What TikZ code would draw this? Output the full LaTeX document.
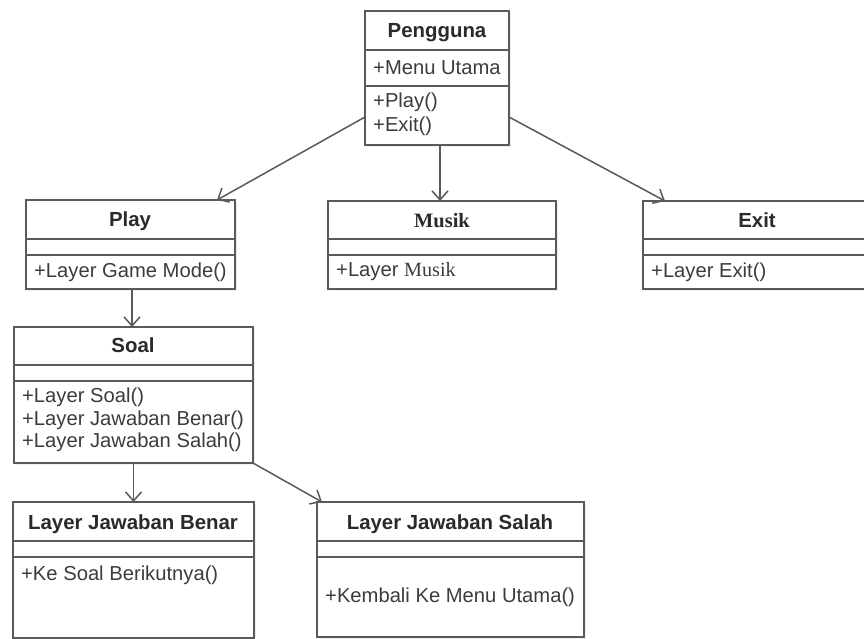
\documentclass[tikz,border=0pt]{standalone}
\usepackage{fontspec}
\setmainfont{Liberation Sans}
\newfontfamily\serifb{Liberation Serif}
\usetikzlibrary{arrows.meta,calc,shadows}
\definecolor{boxline}{HTML}{5A5A5A}
\definecolor{txt}{HTML}{3C3C3C}
\definecolor{ttl}{HTML}{2A2A2A}
\newcommand\umlcls[7]{%
  \node[umlbox, minimum width={#4pt-#2pt}, minimum height={#5pt-#3pt}] (#1) at (#2,#3) {};
  \draw[divline] ([yshift=-#6pt]#1.north west) -- ([yshift=-#6pt]#1.north east);
  \draw[divline] ([yshift=-#7pt]#1.north west) -- ([yshift=-#7pt]#1.north east);
}
\begin{document}
\begin{tikzpicture}[x=1pt,y=-1pt,
  umlbox/.style={draw=boxline, line width=1.9pt, fill=white, anchor=north west, inner sep=0pt, outer sep=0pt,
    drop shadow={opacity=0.12, shadow xshift=2pt, shadow yshift=-2pt}},
  divline/.style={draw=boxline, line width=1.7pt},
  ttltext/.style={font=\fontsize{20.4}{23}\selectfont\bfseries, text=ttl, inner sep=0pt, anchor=base},
  mtext/.style={font=\fontsize{20.2}{23}\selectfont, text=txt, anchor=west, align=left, inner sep=0pt},
  assoc/.style={draw=boxline, line width=1.5pt, -{Straight Barb[length=9pt,width=16pt,line width=1.5pt]}}]
\useasboundingbox[fill=white] (0,0) rectangle (864,639);

% boxes
\umlcls{peng}{365}{11}{509}{145}{39}{75}
\umlcls{play}{26}{200}{235}{289}{39}{55}
\umlcls{musik}{328}{201}{556}{289}{38}{54}
\umlcls{exit}{643}{201}{872}{289}{38}{54}
\umlcls{soal}{14}{327}{253}{463}{38}{54}
\umlcls{benar}{13}{502}{254}{638}{39}{55}
\umlcls{salah}{317}{502}{584}{637}{39}{55}

% texts
\node[ttltext] (pengT) at (437,37.5) {Pengguna};
\node[mtext] (pengA) at (373,68) {+Menu Utama};
\node[mtext, font=\fontsize{20.2}{24}\selectfont] (pengM) at (373,114) {+Play()\\+Exit()};

\node[ttltext] (playT) at (130,226.5) {Play};
\node[mtext] (playM) at (34,272) {+Layer Game Mode()};

\node[ttltext] (musikT) at (442,227) {\serifb\bfseries Musik};
\node[mtext] (musikM) at (336,272) {+Layer {\serifb Musik}};

\node[ttltext] (exitT) at (757,227) {Exit};
\node[mtext] (exitM) at (651,272) {+Layer Exit()};

\node[ttltext] (soalT) at (133,352) {Soal};
\node[mtext, font=\fontsize{20.2}{22.5}\selectfont] (soalM) at (22,420) {+Layer Soal()\\+Layer Jawaban Benar()\\+Layer Jawaban Salah()};

\node[ttltext] (benarT) at (133,529) {Layer Jawaban Benar};
\node[mtext] (benarM) at (21,575) {+Ke Soal Berikutnya()};

\node[ttltext] (salahT) at (450,529) {Layer Jawaban Salah};
\node[mtext] (salahM) at (325,597) {+Kembali Ke Menu Utama()};

% connectors
\draw[assoc] ([yshift=-106pt]peng.north west) -- ([xshift=-18pt]play.north east);
\draw[assoc] ([xshift=3pt]peng.south) -- ([xshift=3pt]peng.south |- musik.north);
\draw[assoc] ([yshift=-106pt]peng.north east) -- ([xshift=22pt]exit.north west);
\draw[assoc] ([xshift=1.5pt]play.south) -- ([xshift=1.5pt]play.south |- soal.north);
\draw[assoc] (soal.south) -- (soal.south |- benar.north);
\draw[assoc] (soal.south east) -- ([xshift=5pt]salah.north west);
\end{tikzpicture}
\end{document}
